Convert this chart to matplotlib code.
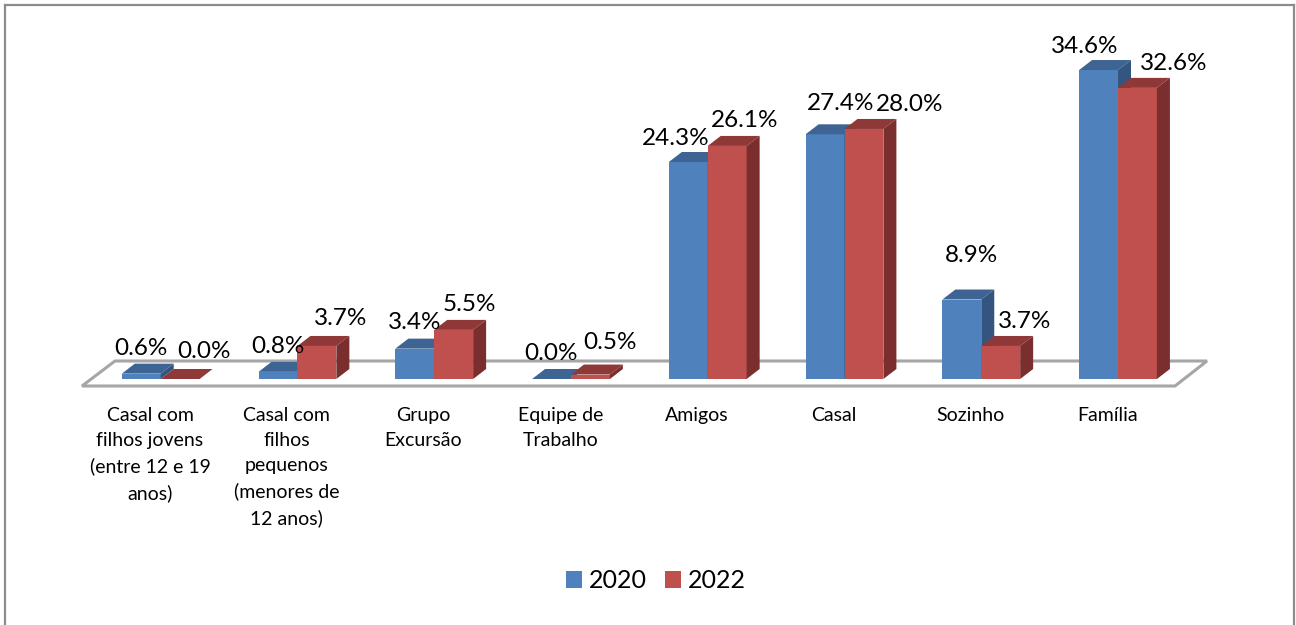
import matplotlib
matplotlib.use("Agg")
import matplotlib.pyplot as plt
from matplotlib.patches import Patch, Polygon
from matplotlib.lines import Line2D

plt.rcParams['font.family'] = ['Lato', 'DejaVu Sans']

categories = ["Casal com\nfilhos jovens\n(entre 12 e 19\nanos)",
              "Casal com\nfilhos\npequenos\n(menores de\n12 anos)",
              "Grupo\nExcursão", "Equipe de\nTrabalho", "Amigos", "Casal",
              "Sozinho", "Família"]
series_names = ["2020", "2022"]
values_2020 = [0.6, 0.8, 3.4, 0.0, 24.3, 27.4, 8.9, 34.6]
values_2022 = [0.0, 3.7, 5.5, 0.5, 26.1, 28.0, 3.7, 32.6]

# label offsets from the top-centre of each bar, in pixels (Excel's manual placement)
offsets_2020 = [(0, 25), (0, 25), (0, 26), (-1, 25), (-13, 24), (16, 31), (10, 44), (-14, 24)]
offsets_2022 = [(24, 27), (24, 27), (16, 25), (20, 32), (17, 25), (46, 24), (24, 24), (36, 24)]

W, H = 1296, 625
PX_X = 136.76         # pixels per category
PX_Y = 8.93           # pixels per percentage point
X0 = 160.7            # pixel x of first category centre
Y0 = 379.0            # pixel y of the value 0
BAR = 38.9 / PX_X     # bar width in data units
DX = 13.0 / PX_X      # 3-D depth
DY = 10.0 / PX_Y

BLUE = ("#4F81BD", "#3E6493", "#33557F")
RED = ("#C0504D", "#8E3937", "#7A2F2E")
GREY = "#A6A6A6"

fig = plt.figure(figsize=(W / 100, H / 100), dpi=100, facecolor="white")
L, R, T, B = 82, 1175, 5, 386
ax = fig.add_axes([L / W, 1 - B / H, (R - L) / W, (B - T) / H])
ax.set_xlim((L - X0) / PX_X, (R - X0) / PX_X)
ax.set_ylim((Y0 - B) / PX_Y, (Y0 - T) / PX_Y)
ax.patch.set_visible(False)
for s in ax.spines.values():
    s.set_visible(False)
ax.set_yticks([])

# floor of the 3-D chart
x_fl, x_fr = (82 - X0) / PX_X, (1175 - X0) / PX_X
x_br, x_bl = (1207 - X0) / PX_X, (115 - X0) / PX_X
y_f, y_b = (Y0 - 386) / PX_Y, (Y0 - 361) / PX_Y
ax.add_patch(Polygon([(x_fl, y_f), (x_fr, y_f), (x_br, y_b), (x_bl, y_b)], closed=True,
                     facecolor="white", edgecolor=GREY, linewidth=2.2, clip_on=False, zorder=1))


def draw_bar(x, v, cols, z):
    ax.bar(x, v, width=BAR, align="edge", color=cols[0], linewidth=0, clip_on=False, zorder=z)
    ax.add_patch(Polygon([(x, v), (x + BAR, v), (x + BAR + DX, v + DY), (x + DX, v + DY)],
                         closed=True, facecolor=cols[1], edgecolor="none", clip_on=False, zorder=z))
    ax.add_patch(Polygon([(x + BAR, 0), (x + BAR + DX, DY), (x + BAR + DX, v + DY), (x + BAR, v)],
                         closed=True, facecolor=cols[2], edgecolor="none", clip_on=False, zorder=z))


for i, (a, b) in enumerate(zip(values_2020, values_2022)):
    draw_bar(i - BAR, a, BLUE, 2 + i * 2)
    draw_bar(i, b, RED, 3 + i * 2)
    for x, v, off in ((i - BAR / 2, a, offsets_2020[i]), (i + BAR / 2, b, offsets_2022[i])):
        ax.annotate(f"{v:.1f}%", (x, v), xytext=off, textcoords="offset pixels",
                    ha="center", va="center", fontsize=17.5, color="black",
                    annotation_clip=False, zorder=50)

ax.set_xticks([i - 0.078 for i in range(len(categories))])
ax.set_xticklabels(categories, fontsize=14, color="black", linespacing=1.57, ha="center", va="top")
ax.tick_params(axis="x", length=0, pad=15.2)

# chart frame
for xs, ys in (((5 / W, 5 / W), (0, 1 - 5 / H)), ((5 / W, 1294 / W), (1 - 5 / H, 1 - 5 / H)),
               ((1294 / W, 1294 / W), (1 - 5 / H, 0))):
    fig.add_artist(Line2D(xs, ys, color="#8C8C8C", linewidth=1.6, transform=fig.transFigure))

handles = [Patch(facecolor=BLUE[0], label=series_names[0]), Patch(facecolor=RED[0], label=series_names[1])]
fig.legend(handles=handles, loc="center", bbox_to_anchor=(656 / W, 1 - 581 / H), ncols=2, frameon=False,
           fontsize=18, handlelength=0.64, handleheight=0.64, handletextpad=0.25, columnspacing=0.75)

fig.savefig("out.png", dpi=100, facecolor="white")
